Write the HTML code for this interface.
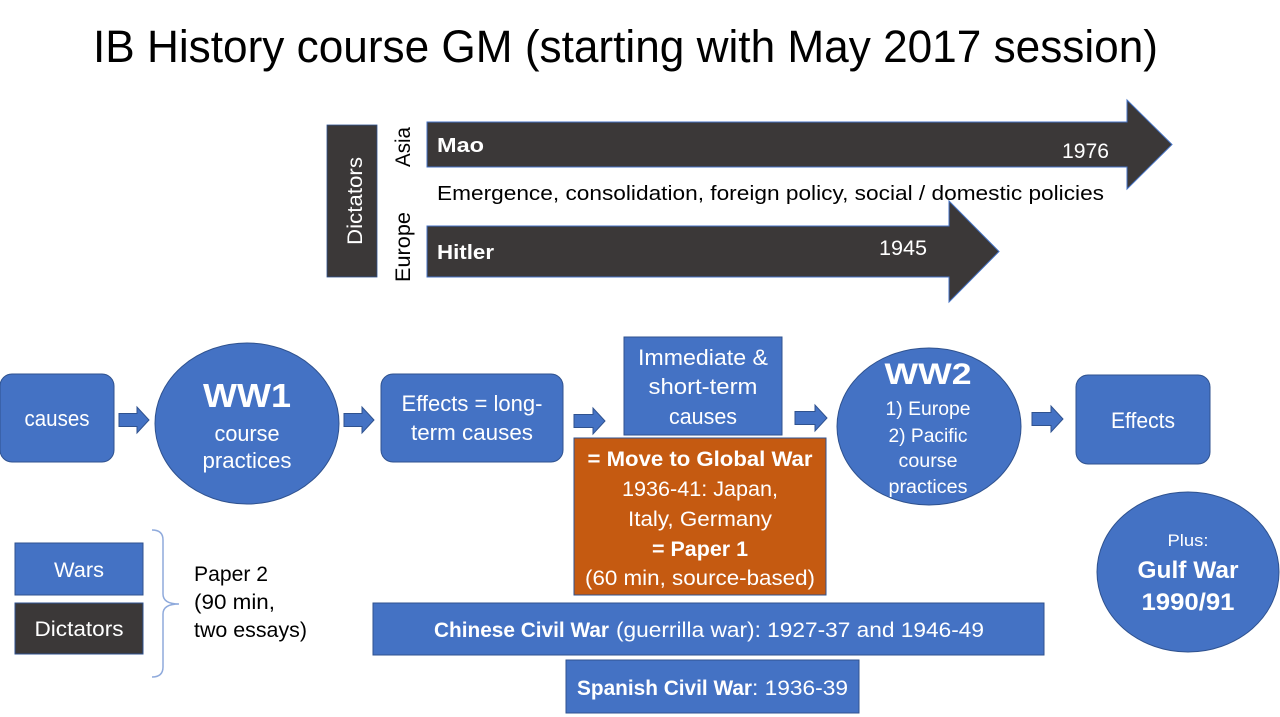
<!DOCTYPE html>
<html>
<head>
<meta charset="utf-8">
<style>
  html,body{margin:0;padding:0;background:#fff;}
  svg{display:block;}
  text{font-family:"Liberation Sans", sans-serif;}
</style>
</head>
<body>
<svg width="1280" height="717" viewBox="0 0 1280 717" xmlns="http://www.w3.org/2000/svg">
  <rect x="0" y="0" width="1280" height="717" fill="#ffffff"/>

  <!-- Title -->
  <text x="93" y="62" font-size="45" fill="#000" textLength="1065" lengthAdjust="spacingAndGlyphs">IB History course GM (starting with May 2017 session)</text>

  <!-- Dictators vertical box -->
  <rect x="327" y="125" width="50" height="152" fill="#3b3838" stroke="#2f528f" stroke-width="0.8"/>
  <text transform="translate(362,201) rotate(-90)" text-anchor="middle" font-size="21" fill="#fff" textLength="88" lengthAdjust="spacingAndGlyphs">Dictators</text>
  <text transform="translate(410,147) rotate(-90)" text-anchor="middle" font-size="21" fill="#000" textLength="40" lengthAdjust="spacingAndGlyphs">Asia</text>
  <text transform="translate(410,247) rotate(-90)" text-anchor="middle" font-size="21" fill="#000" textLength="70" lengthAdjust="spacingAndGlyphs">Europe</text>

  <!-- Mao arrow -->
  <polygon points="427,122 1127,122 1127,100 1172,144.5 1127,189 1127,167 427,167" fill="#3b3838" stroke="#4472c4" stroke-width="1"/>
  <text x="437" y="152" font-size="20" font-weight="bold" fill="#fff" textLength="47" lengthAdjust="spacingAndGlyphs">Mao</text>
  <text x="1062" y="158" font-size="21" fill="#fff" textLength="47" lengthAdjust="spacingAndGlyphs">1976</text>

  <text x="437" y="200" font-size="20" fill="#000" textLength="667" lengthAdjust="spacingAndGlyphs">Emergence, consolidation, foreign policy, social / domestic policies</text>

  <!-- Hitler arrow -->
  <polygon points="427,226 949,226 949,201 999,251.5 949,302 949,277 427,277" fill="#3b3838" stroke="#4472c4" stroke-width="1"/>
  <text x="437" y="259" font-size="20" font-weight="bold" fill="#fff" textLength="57" lengthAdjust="spacingAndGlyphs">Hitler</text>
  <text x="879" y="255" font-size="21" fill="#fff" textLength="48" lengthAdjust="spacingAndGlyphs">1945</text>

  <!-- causes -->
  <rect x="0" y="374" width="114" height="88" rx="12" ry="12" fill="#4472c4" stroke="#2f528f" stroke-width="1"/>
  <text x="57" y="426" text-anchor="middle" font-size="22" fill="#fff" textLength="65" lengthAdjust="spacingAndGlyphs">causes</text>

  <!-- arrow 1 -->
  <polygon points="119,413.5 137,413.5 137,407 149,420 137,433 137,426.5 119,426.5" fill="#4472c4" stroke="#2f528f" stroke-width="1"/>

  <!-- WW1 -->
  <ellipse cx="247" cy="423.5" rx="92" ry="80.5" fill="#4472c4" stroke="#2f528f" stroke-width="1"/>
  <text x="247" y="407" text-anchor="middle" font-size="33" font-weight="bold" fill="#fff" textLength="88" lengthAdjust="spacingAndGlyphs">WW1</text>
  <text x="247" y="441" text-anchor="middle" font-size="22" fill="#fff" textLength="65" lengthAdjust="spacingAndGlyphs">course</text>
  <text x="247" y="468" text-anchor="middle" font-size="22" fill="#fff" textLength="89" lengthAdjust="spacingAndGlyphs">practices</text>

  <!-- arrow 2 -->
  <polygon points="344,413.5 362,413.5 362,407 374,420 362,433 362,426.5 344,426.5" fill="#4472c4" stroke="#2f528f" stroke-width="1"/>

  <!-- Effects = long-term causes -->
  <rect x="381" y="374" width="182" height="88" rx="12" ry="12" fill="#4472c4" stroke="#2f528f" stroke-width="1"/>
  <text x="472" y="411" text-anchor="middle" font-size="22" fill="#fff" textLength="141" lengthAdjust="spacingAndGlyphs">Effects = long-</text>
  <text x="472" y="440" text-anchor="middle" font-size="22" fill="#fff" textLength="122" lengthAdjust="spacingAndGlyphs">term causes</text>

  <!-- arrow 3 -->
  <polygon points="574,414.5 593,414.5 593,408 605,421 593,434 593,427.5 574,427.5" fill="#4472c4" stroke="#2f528f" stroke-width="1"/>

  <!-- Immediate & short-term causes -->
  <rect x="624" y="337" width="158" height="98" fill="#4472c4" stroke="#2f528f" stroke-width="1"/>
  <text x="703" y="365" text-anchor="middle" font-size="22" fill="#fff" textLength="130" lengthAdjust="spacingAndGlyphs">Immediate &amp;</text>
  <text x="703" y="394" text-anchor="middle" font-size="22" fill="#fff" textLength="109" lengthAdjust="spacingAndGlyphs">short-term</text>
  <text x="703" y="424" text-anchor="middle" font-size="22" fill="#fff" textLength="68" lengthAdjust="spacingAndGlyphs">causes</text>

  <!-- Orange box -->
  <rect x="574" y="438" width="252" height="157" fill="#c55a11" stroke="#2f528f" stroke-width="1"/>
  <text x="700" y="466" text-anchor="middle" font-size="21" font-weight="bold" fill="#fff" textLength="225" lengthAdjust="spacingAndGlyphs">= Move to Global War</text>
  <text x="700" y="496" text-anchor="middle" font-size="21" fill="#fff" textLength="156" lengthAdjust="spacingAndGlyphs">1936-41: Japan,</text>
  <text x="700" y="526" text-anchor="middle" font-size="21" fill="#fff" textLength="144" lengthAdjust="spacingAndGlyphs">Italy, Germany</text>
  <text x="700" y="556" text-anchor="middle" font-size="21" font-weight="bold" fill="#fff" textLength="96" lengthAdjust="spacingAndGlyphs">= Paper 1</text>
  <text x="700" y="585" text-anchor="middle" font-size="21" fill="#fff" textLength="230" lengthAdjust="spacingAndGlyphs">(60 min, source-based)</text>

  <!-- arrow 4 -->
  <polygon points="795,411.5 815,411.5 815,405 827,418 815,431 815,424.5 795,424.5" fill="#4472c4" stroke="#2f528f" stroke-width="1"/>

  <!-- WW2 -->
  <ellipse cx="929" cy="426.5" rx="92" ry="78.5" fill="#4472c4" stroke="#2f528f" stroke-width="1"/>
  <text x="928" y="384" text-anchor="middle" font-size="30" font-weight="bold" fill="#fff" textLength="87" lengthAdjust="spacingAndGlyphs">WW2</text>
  <text x="928" y="415" text-anchor="middle" font-size="19" fill="#fff" textLength="85" lengthAdjust="spacingAndGlyphs">1) Europe</text>
  <text x="928" y="442" text-anchor="middle" font-size="19" fill="#fff" textLength="79" lengthAdjust="spacingAndGlyphs">2) Pacific</text>
  <text x="928" y="467" text-anchor="middle" font-size="19" fill="#fff" textLength="59" lengthAdjust="spacingAndGlyphs">course</text>
  <text x="928" y="493" text-anchor="middle" font-size="19" fill="#fff" textLength="79" lengthAdjust="spacingAndGlyphs">practices</text>

  <!-- arrow 5 -->
  <polygon points="1032,412.5 1051,412.5 1051,406 1063,419 1051,432 1051,425.5 1032,425.5" fill="#4472c4" stroke="#2f528f" stroke-width="1"/>

  <!-- Effects -->
  <rect x="1076" y="375" width="134" height="89" rx="12" ry="12" fill="#4472c4" stroke="#2f528f" stroke-width="1"/>
  <text x="1143" y="428" text-anchor="middle" font-size="22" fill="#fff" textLength="64" lengthAdjust="spacingAndGlyphs">Effects</text>

  <!-- Gulf War -->
  <ellipse cx="1188" cy="572" rx="91" ry="80" fill="#4472c4" stroke="#2f528f" stroke-width="1"/>
  <text x="1188" y="546" text-anchor="middle" font-size="17" fill="#fff" textLength="41" lengthAdjust="spacingAndGlyphs">Plus:</text>
  <text x="1188" y="578" text-anchor="middle" font-size="24" font-weight="bold" fill="#fff" textLength="101" lengthAdjust="spacingAndGlyphs">Gulf War</text>
  <text x="1188" y="610" text-anchor="middle" font-size="24" font-weight="bold" fill="#fff" textLength="93" lengthAdjust="spacingAndGlyphs">1990/91</text>

  <!-- Legend -->
  <rect x="15" y="543" width="128" height="52" fill="#4472c4" stroke="#2f528f" stroke-width="1"/>
  <text x="79" y="577" text-anchor="middle" font-size="21" fill="#fff" textLength="50" lengthAdjust="spacingAndGlyphs">Wars</text>
  <rect x="15" y="603" width="128" height="51" fill="#3b3838" stroke="#2f528f" stroke-width="1"/>
  <text x="79" y="636" text-anchor="middle" font-size="21" fill="#fff" textLength="89" lengthAdjust="spacingAndGlyphs">Dictators</text>

  <!-- Brace -->
  <path d="M152,530 Q163,530 163,540 L163,594 Q163,604 179,604 Q163,604 163,614 L163,667 Q163,677 152,677" fill="none" stroke="#8faadc" stroke-width="1.5"/>

  <text x="194" y="581" font-size="21" fill="#000" textLength="74" lengthAdjust="spacingAndGlyphs">Paper 2</text>
  <text x="194" y="609" font-size="21" fill="#000" textLength="81" lengthAdjust="spacingAndGlyphs">(90 min,</text>
  <text x="194" y="637" font-size="21" fill="#000" textLength="113" lengthAdjust="spacingAndGlyphs">two essays)</text>

  <!-- Chinese Civil War bar -->
  <rect x="373" y="603" width="671" height="52" fill="#4472c4" stroke="#2f528f" stroke-width="1"/>
  <text x="434" y="637" font-size="21" font-weight="bold" fill="#fff" textLength="175" lengthAdjust="spacingAndGlyphs">Chinese Civil War</text>
  <text x="616" y="637" font-size="21" fill="#fff" textLength="368" lengthAdjust="spacingAndGlyphs">(guerrilla war): 1927-37 and 1946-49</text>

  <!-- Spanish Civil War bar -->
  <rect x="566" y="660" width="293" height="53" fill="#4472c4" stroke="#2f528f" stroke-width="1"/>
  <text x="577" y="695" font-size="21" font-weight="bold" fill="#fff" textLength="175" lengthAdjust="spacingAndGlyphs">Spanish Civil War</text>
  <text x="752" y="695" font-size="21" fill="#fff" textLength="96" lengthAdjust="spacingAndGlyphs">: 1936-39</text>
</svg>
</body>
</html>
